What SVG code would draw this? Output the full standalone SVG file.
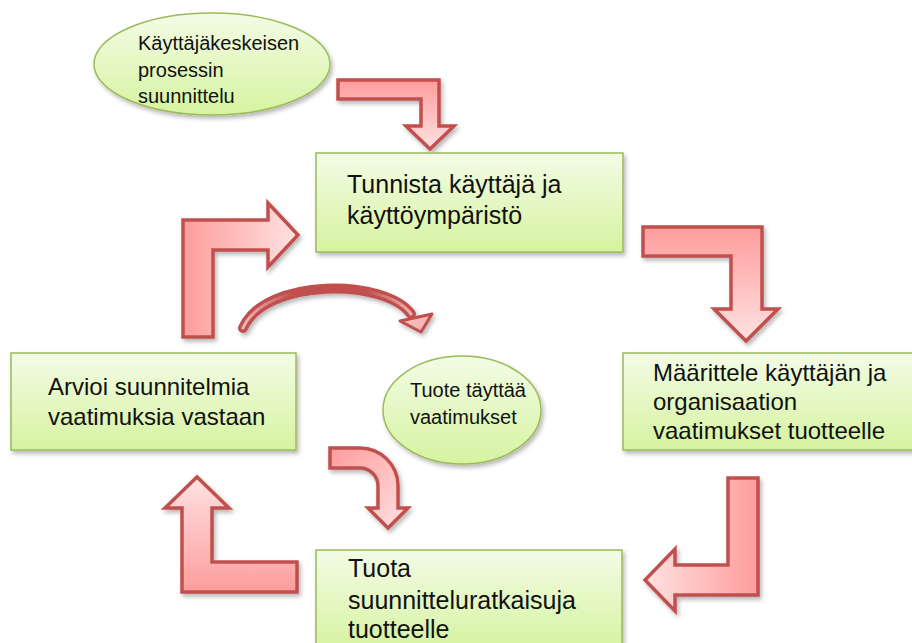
<svg xmlns="http://www.w3.org/2000/svg" width="912" height="643" viewBox="0 0 912 643">
<style>
.box{fill:url(#gGreen);stroke:#9bbb59;stroke-width:1.5;filter:url(#sh)}
.ell{fill:url(#gGreen);stroke:#9bbb59;stroke-width:1.5;filter:url(#sh)}
.arr{stroke:#c0504d;stroke-width:3.5;stroke-linejoin:miter;filter:url(#sh)}
text{font-family:"Liberation Sans",Arial,sans-serif;fill:#111}
.t{font-size:24px}
.b{font-size:25px}
.s{font-size:20px}
</style>
<defs>
<filter id="sh" x="-20%" y="-20%" width="140%" height="140%">
<feDropShadow dx="2" dy="3" stdDeviation="2" flood-color="#000" flood-opacity="0.28"/>
</filter>
<linearGradient id="gGreen" x1="0" y1="0" x2="0" y2="1">
<stop offset="0" stop-color="#f3fce6"/>
<stop offset="1" stop-color="#d6f3a0"/>
</linearGradient>
<linearGradient id="gDown" x1="0" y1="0" x2="0" y2="1">
<stop offset="0" stop-color="#fe9c9c"/>
<stop offset="1" stop-color="#ffe2e2"/>
</linearGradient>
<linearGradient id="gUp" x1="0" y1="1" x2="0" y2="0">
<stop offset="0" stop-color="#fe9c9c"/>
<stop offset="1" stop-color="#ffe2e2"/>
</linearGradient>
<linearGradient id="gLeft" x1="1" y1="0" x2="0" y2="0">
<stop offset="0" stop-color="#fe9c9c"/>
<stop offset="1" stop-color="#ffe2e2"/>
</linearGradient>
<linearGradient id="gRight" x1="0" y1="0" x2="1" y2="0">
<stop offset="0" stop-color="#fe9c9c"/>
<stop offset="1" stop-color="#ffe2e2"/>
</linearGradient>
<linearGradient id="gDiag" x1="0" y1="0" x2="1" y2="1">
<stop offset="0" stop-color="#fe9c9c"/>
<stop offset="1" stop-color="#ffe2e2"/>
</linearGradient>
<linearGradient id="gArc" gradientUnits="userSpaceOnUse" x1="238" y1="0" x2="420" y2="0">
<stop offset="0" stop-color="#f6c3c2"/>
<stop offset="0.3" stop-color="#c0504d"/>
<stop offset="0.7" stop-color="#c0504d"/>
<stop offset="1" stop-color="#f6c3c2"/>
</linearGradient>
</defs>

<g id="connectors">
<path class="arr" fill="url(#gDown)" d="M338,80 H439 V126 H454 L430,149 L406,126 H421 V99 H338 Z"/>
<path class="arr" fill="url(#gDown)" d="M643,227 H762 V309 H778 L746,341 L714,309 H731 V256 H643 Z"/>
<path class="arr" fill="url(#gLeft)" d="M728,478 H758 V595 H675 V611 L645,580 L675,549 V565 H728 Z"/>
<path class="arr" fill="url(#gUp)" d="M297,562 V592 H182 V508 H165 L197,477 L229,508 H212 V562 Z"/>
<path class="arr" fill="url(#gRight)" d="M183,337 V220 H268 V203 L298,235 L268,267 V250 H213 V337 Z"/>
<path class="arr" fill="url(#gDiag)" d="M330,448 H360 A38,38 0 0 1 398,486 V508 H408 L388,528 L368,508 H378 V486 A18,18 0 0 0 360,468 H330 Z"/>
<g filter="url(#sh)">
<path d="M243,328 C265,278 385,278 411,314" fill="none" stroke="#c0504d" stroke-width="10" stroke-linecap="round"/>
<path d="M243,328 C265,278 385,278 411,314" fill="none" stroke="url(#gArc)" stroke-width="3" stroke-linecap="round"/>
<path d="M400,321 L432,314 L421,332 Z" fill="#f6b8b6" stroke="#c0504d" stroke-width="3" stroke-linejoin="round"/>
</g>
</g>

<g id="node-start">
<ellipse class="ell" cx="212" cy="64" rx="118" ry="51"/>
<text class="s" x="138" y="50">Käyttäjäkeskeisen</text>
<text class="s" x="138" y="77">prosessin</text>
<text class="s" x="138" y="103">suunnittelu</text>
</g>

<g id="node-tunnista">
<rect class="box" x="316" y="153" width="307" height="99"/>
<text class="b" x="347" y="193">Tunnista käyttäjä ja</text>
<text class="b" x="347" y="224">käyttöympäristö</text>
</g>

<g id="node-maarittele">
<rect class="box" x="623" y="353" width="300" height="97"/>
<text class="t" x="653" y="381">Määrittele käyttäjän ja</text>
<text class="t" x="653" y="410">organisaation</text>
<text class="t" x="653" y="439">vaatimukset tuotteelle</text>
</g>

<g id="node-arvioi">
<rect class="box" x="11" y="353" width="285" height="97"/>
<text class="t" x="48" y="395">Arvioi suunnitelmia</text>
<text class="t" x="48" y="425">vaatimuksia vastaan</text>
</g>

<g id="node-tuote">
<ellipse class="ell" cx="462" cy="410" rx="79" ry="54"/>
<text class="s" x="410" y="397">Tuote täyttää</text>
<text class="s" x="410" y="424">vaatimukset</text>
</g>

<g id="node-tuota">
<rect class="box" x="316" y="550" width="306" height="100"/>
<text class="b" x="348" y="577">Tuota</text>
<text class="b" x="348" y="609">suunnitteluratkaisuja</text>
<text class="b" x="348" y="638">tuotteelle</text>
</g>
</svg>
